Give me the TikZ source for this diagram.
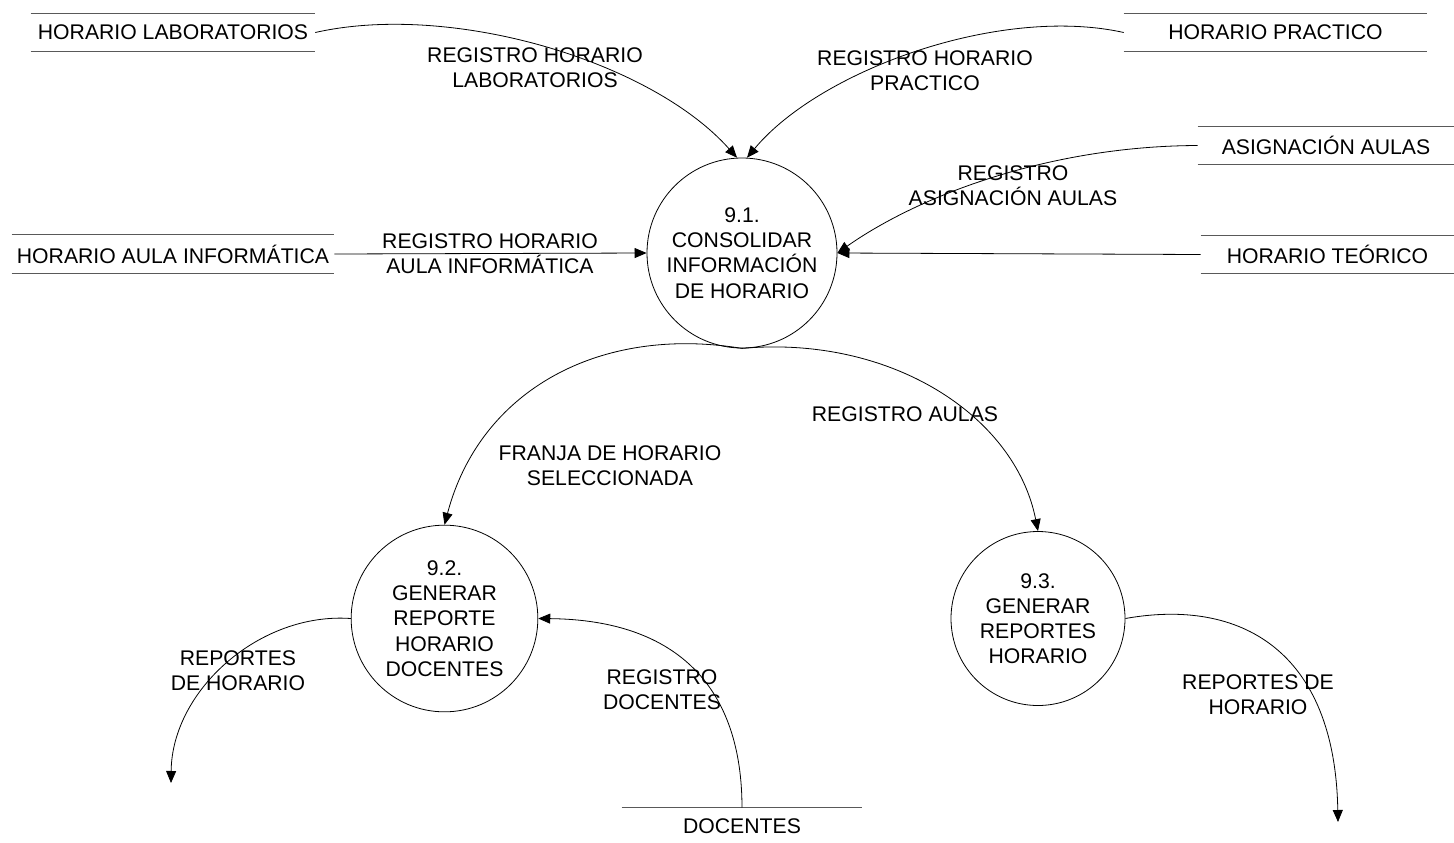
\documentclass[tikz,border=0pt]{standalone}
\usepackage{fontspec}
\setmainfont{Liberation Sans}
\usetikzlibrary{arrows.meta}
\newcommand{\dfdfont}{\fontsize{15.9}{18.9}\selectfont}
\tikzset{
  flow/.style={line width=0.6pt, -{Triangle[length=9pt,width=7.5pt]}},
  storeline/.style={draw=black!65, line width=1pt},
  store/.style={inner sep=0pt, minimum height=27.75pt, font=\dfdfont,
    append after command={
      (\tikzlastnode.north west) edge[storeline] (\tikzlastnode.north east)
      (\tikzlastnode.south west) edge[storeline] (\tikzlastnode.south east)}},
  process/.style={circle, draw, line width=0.6pt, inner sep=0pt, align=center, font=\dfdfont},
  lbl/.style={align=center, inner sep=0pt, font=\dfdfont},
}
\begin{document}
\begin{tikzpicture}[x=0.75pt,y=-0.75pt]
\useasboundingbox (0,0) rectangle (1454,843);

% processes
\node[process, minimum size=142.5pt] (p1) at (742,253) {9.1.\\CONSOLIDAR\\INFORMACIÓN\\DE HORARIO};
\node[process, minimum size=140pt] (p2) at (444.5,618.5) {9.2.\\GENERAR\\REPORTE\\HORARIO\\DOCENTES};
\node[process, minimum size=130.5pt] (p3) at (1038,618.5) {9.3.\\GENERAR\\REPORTES\\HORARIO};

% data stores
\node[store, minimum width=213pt] (lab) at (173,32.5) {HORARIO LABORATORIOS};
\node[store, minimum width=227.25pt] (prac) at (1275.5,32.5) {HORARIO PRACTICO};
\node[store, minimum width=241.5pt, minimum height=28.5pt] (aula) at (173,254) {HORARIO AULA INFORMÁTICA};
\node[store, minimum width=192pt] (asig) at (1326,145.5) {ASIGNACIÓN AULAS};
\node[store, minimum width=189.75pt] (teo) at (1327.5,254.5) {HORARIO TEÓRICO};
\node[store, minimum width=180pt] (doc) at (742,826.5) {DOCENTES};

% free ends of the outgoing report flows
\coordinate (out2) at (171,783);
\coordinate (out3) at (1338,822);

% flows into 9.1
\draw[flow] (lab.east) .. controls (450,2) and (650,60) .. (p1.93);
\draw[flow] (prac.west) .. controls (1000,5) and (820,70) .. (p1.87);
\draw[flow] (asig.west) .. controls (1050,146) and (920,195) .. (p1.east);
\draw[flow] (teo.west) -- (p1.east);
\draw[flow] (aula.east) -- (p1.west);

% flows out of 9.1
\draw[flow] (p1.south) .. controls (600,325) and (480,390) .. (p2.north);
\draw[flow] (p1.south) .. controls (890,335) and (1015,415) .. (p3.north);

% flows of 9.2 and 9.3
\draw[flow] (doc.north) .. controls (742,690) and (680,620) .. (p2.east);
\draw[flow] (p2.west) .. controls (260,612) and (172,690) .. (out2);
\draw[flow] (p3.east) .. controls (1240,598) and (1335,650) .. (out3);

% flow labels
\node[lbl] (l1) at (535,68) {REGISTRO HORARIO\\LABORATORIOS};
\node[lbl] (l2) at (925,71) {REGISTRO HORARIO\\PRACTICO};
\node[lbl] (l3) at (1013,186) {REGISTRO\\ASIGNACIÓN AULAS};
\node[lbl] (l4) at (490,254) {REGISTRO HORARIO\\AULA INFORMÁTICA};
\node[lbl] (l5) at (610,466) {FRANJA DE HORARIO\\SELECCIONADA};
\node[lbl] (l6) at (905,414) {REGISTRO AULAS};
\node[lbl] (l7) at (662,690) {REGISTRO\\DOCENTES};
\node[lbl] (l8) at (238,671) {REPORTES\\DE HORARIO};
\node[lbl] (l9) at (1258,695) {REPORTES DE\\HORARIO};
\end{tikzpicture}
\end{document}
